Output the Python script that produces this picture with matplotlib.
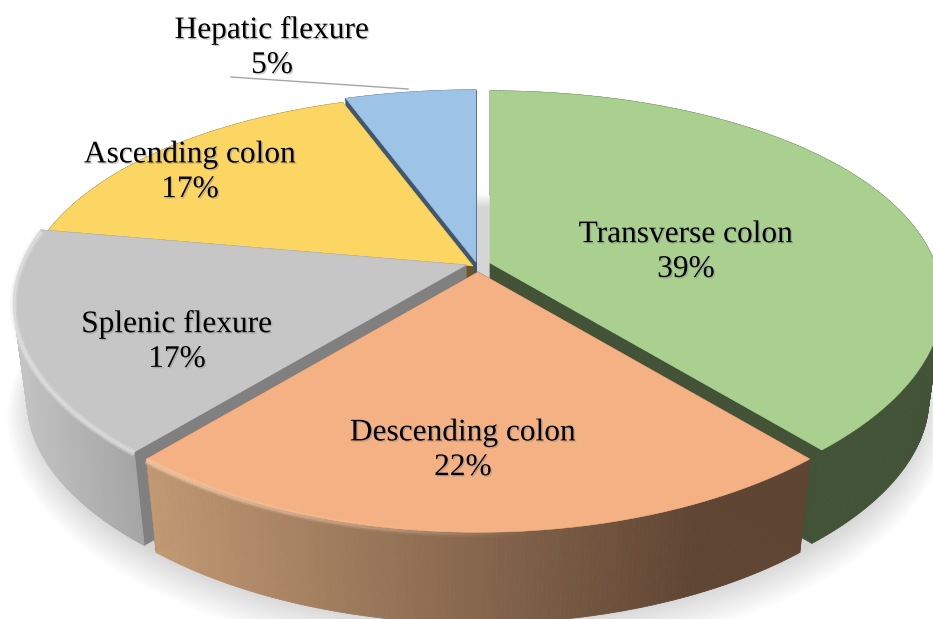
import numpy as np
import matplotlib
matplotlib.use('Agg')
import matplotlib.pyplot as plt
import matplotlib.patheffects as pe
from matplotlib.collections import PolyCollection, LineCollection
from matplotlib.colors import to_rgb

labels = ['Transverse colon', 'Descending colon', 'Splenic flexure', 'Ascending colon', 'Hepatic flexure']
percents = [39, 22, 17, 17, 5]
# slice sizes (140, 80, 60, 60, 20 degrees)
slice_sizes = [7, 4, 3, 3, 1]

top_colors = ['#a9d08e', '#f4b183', '#c6c6c6', '#fcd663', '#9dc3e6']
cut_colors = ['#425337', '#5f4533', '#808080', '#6b5428', '#3f5870']
wall_left = ['#425337', '#c39a75', '#c4c4c4', '#6b5428', '#3f5870']
wall_right = ['#425337', '#5f4533', '#a4a4a4', '#6b5428', '#3f5870']
apex = [(490, 263), (478, 272), (466, 265), (473, 266), (476, 262)]
text_pos = [(686, 252), (463, 450), (177, 342), (190, 172), (272, 48)]
draw_order = [4, 3, 0, 2, 1]

RX, KX = 445, 0.18
RY_UP, RY_DOWN, KY = 210, 203, 0.22
DEPTH, SHRINK = 99, 0.97


def rim(i, deg):
    # perspective circle, angle runs clockwise from the top
    a = np.radians(deg)
    x, y = np.sin(a), np.cos(a)
    ry = np.where(y > 0, RY_UP, RY_DOWN)
    return apex[i][0] + RX * x / (1 + KX * y), apex[i][1] - ry * y / (1 + KY * y)


def low(i, px, py):
    return (apex[i][0] + SHRINK * (px - apex[i][0]),
            apex[i][1] + SHRINK * (py - apex[i][1]) + DEPTH)


def mix(c1, c2, t):
    c1, c2 = np.array(to_rgb(c1)), np.array(to_rgb(c2))
    return tuple(c1 + (c2 - c1) * np.clip(t, 0, 1))


edges = np.concatenate([[0], np.cumsum(slice_sizes)]) / sum(slice_sizes) * 360

fig = plt.figure(figsize=(9.33, 6.19), dpi=100)
ax = fig.add_axes([0, 0, 1, 1])
ax.set_xlim(0, 933)
ax.set_ylim(619, 0)
ax.axis('off')

# soft shadow under the pie
sa = np.radians(np.arange(0, 361, 3))
for grow in np.arange(26, -1, -2):
    sx = 478 + (437 + grow) * np.sin(sa) / (1 + KX * np.cos(sa))
    sy = 368 + grow * 0.3 - (RY_DOWN + grow) * 0.97 * np.cos(sa) / (1 + KY * np.cos(sa))
    ax.fill(sx, sy, color='black', alpha=0.012, lw=0, zorder=1)

z = 2
for i in draw_order:
    t1, t2 = edges[i], edges[i + 1]
    deg = np.arange(t1, t2 + 0.25, 0.5)
    deg[-1] = t2
    px, py = rim(i, deg)
    bx, by = low(i, px, py)

    # cut faces of the exploded slice
    ax0, ay0 = apex[i]
    a0x, a0y = low(i, ax0, ay0)
    for k in (0, -1):
        ax.fill([ax0, px[k], bx[k], a0x], [ay0, py[k], by[k], a0y], color=cut_colors[i], lw=0.5, zorder=z)
    z += 1

    # outer wall, one thin quad per step for the gradient
    quads, cols = [], []
    x_min, x_max = (140, 700) if i == 1 else (10, 140)
    for j in range(len(deg) - 1):
        quads.append([(px[j], py[j]), (px[j + 1], py[j + 1]), (bx[j + 1], by[j + 1]), (bx[j], by[j])])
        cols.append(mix(wall_left[i], wall_right[i], (px[j] - x_min) / (x_max - x_min)))
    ax.add_collection(PolyCollection(quads, facecolors=cols, edgecolors=cols, linewidths=0.6, zorder=z))
    z += 1

    # top face
    ax.fill(np.r_[ax0, px], np.r_[ay0, py], color=top_colors[i], lw=0.4, zorder=z)
    z += 1

    # lit bevel on the front rim
    if i in (1, 2):
        segs = [[(px[j], py[j] + 1.5), (px[j + 1], py[j + 1] + 1.5)] for j in range(len(deg) - 1)]
        base = '#fbd0ad' if i == 1 else '#e6e6e6'
        for width, strength in ((5, 0.3), (2.5, 0.6)):
            seg_cols = []
            for j in range(len(deg) - 1):
                a = strength * (1 - np.clip((px[j] - 140) / 400, 0, 1)) if i == 1 else strength
                seg_cols.append((*to_rgb(base), a))
            ax.add_collection(LineCollection(segs, colors=seg_cols, linewidths=width, zorder=z))
            z += 1

# leader line of the smallest slice
ax.plot([231, 408], [77, 89], color='#a6a6a6', lw=1, zorder=z)
z += 1

for i, (tx, ty) in enumerate(text_pos):
    ax.text(tx, ty, f'{labels[i]}\n{percents[i]}%', ha='center', va='center',
            family='Liberation Serif', fontsize=22.6, linespacing=1.26, color='black', zorder=z,
            path_effects=[pe.withSimplePatchShadow(offset=(1, -1), shadow_rgbFace='#808080', alpha=0.4)])

fig.savefig('out.png', dpi=100)
